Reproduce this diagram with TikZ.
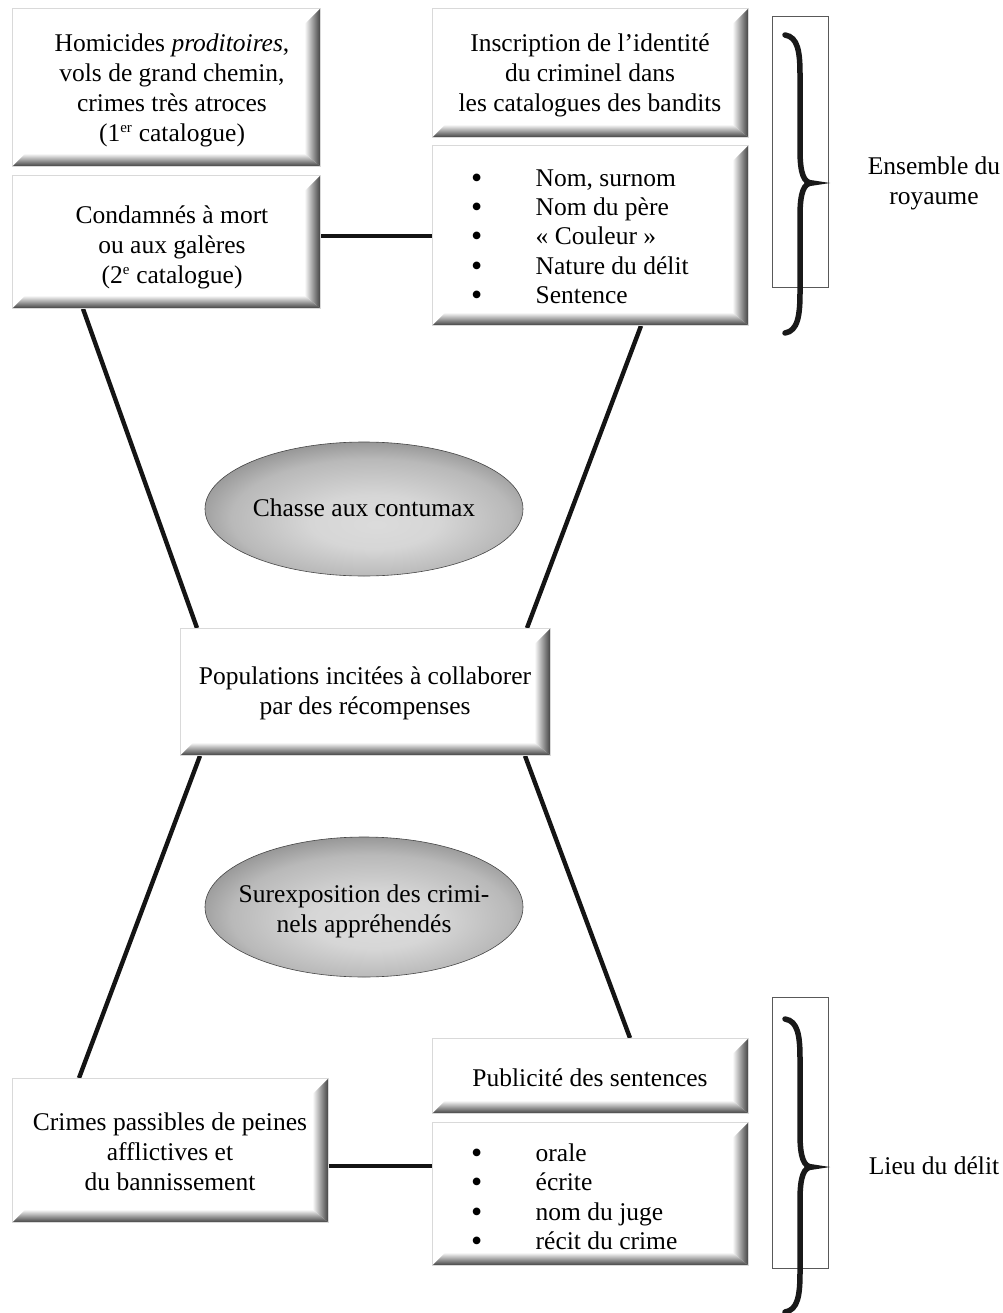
\documentclass[tikz,border=0pt]{standalone}
\usepackage{fontspec}
\setmainfont{Liberation Serif}
\usetikzlibrary{calc,shapes.geometric}
\pgfdeclarelayer{background}
\pgfsetlayers{background,main}
\pgfdeclareradialshading{ellsh}{\pgfpoint{2bp}{-6bp}}{color(0bp)=(gray!28); color(10bp)=(gray!32); color(22bp)=(gray!55); color(28bp)=(gray!82); color(50bp)=(gray!82)}
\tikzset{
  bevbox/.style={draw=gray!30, line width=0.8pt, fill=white, inner sep=0pt, anchor=north west,
    path picture={
      \path (path picture bounding box.north east) coordinate (pNE)
            (path picture bounding box.south east) coordinate (pSE)
            (path picture bounding box.south west) coordinate (pSW);
      \shade[left color=white, right color=black!75]
        (pNE) -- (pSE) -- ([xshift=-16pt,yshift=13pt]pSE) -- ([xshift=-16pt,yshift=-16pt]pNE) -- cycle;
      \shade[top color=white, bottom color=black!75, middle color=gray!75]
        (pSW) -- (pSE) -- ([xshift=-16pt,yshift=13pt]pSE) -- ([xshift=13pt,yshift=13pt]pSW) -- cycle;
    }},
  txt/.style={align=center, inner sep=0pt, font=\fontsize{25.5}{30}\selectfont, text=black},
  lst/.style={align=left, inner sep=0pt, anchor=west, font=\fontsize{25.5}{29.3}\selectfont, text=black},
  ell/.style={ellipse, shade, shading=ellsh, draw=gray!55!black, line width=0.6pt, inner sep=0pt},
  conn/.style={line width=4.4pt, black!92},
  frm/.style={draw=gray!70!black, line width=0.9pt},
  brc/.style={line width=5.5pt, black!90, line cap=round}
}
\newcommand{\bul}{\makebox[64.5pt][l]{\smash{\raisebox{-2pt}{\fontsize{32}{30}\selectfont •}}}}
\begin{document}
\begin{tikzpicture}[x=1pt,y=-1pt]
\useasboundingbox (0,0) rectangle (1002,1313);

% boxes
\node[bevbox, minimum width=308, minimum height=158] (A) at (12,8) {};
\node[bevbox, minimum width=308, minimum height=133] (B) at (12,175) {};
\node[bevbox, minimum width=316, minimum height=129] (C) at (432,8) {};
\node[bevbox, minimum width=316, minimum height=180] (D) at (432,145) {};
\node[bevbox, minimum width=370, minimum height=127] (P) at (180,628) {};
\node[bevbox, minimum width=316, minimum height=144] (E) at (12,1078) {};
\node[bevbox, minimum width=316, minimum height=75] (F) at (432,1038) {};
\node[bevbox, minimum width=316, minimum height=143] (G) at (432,1122) {};

% texts in boxes
\node[txt] (tA) at (172,90) {Homicides \textit{proditoires},\\vols de grand chemin,\\crimes très atroces\\(1\textsuperscript{\fontsize{15}{15}\selectfont er} catalogue)};
\node[txt] (tB) at (172,247) {Condamnés à mort\\ou aux galères\\(2\textsuperscript{\fontsize{15}{15}\selectfont e} catalogue)};
\node[txt] (tC) at (590,75) {Inscription de l’identité\\du criminel dans\\les catalogues des bandits};
\node[lst] (tD) at (471,236.6) {\bul Nom, surnom\\\bul Nom du père\\\bul « Couleur »\\\bul Nature du délit\\\bul Sentence};
\node[txt] (tP) at (365,693) {Populations incitées à collaborer\\par des récompenses};
\node[txt] (tE) at (170,1152) {Crimes passibles de peines\\afflictives et\\du bannissement};
\node[txt] (tF) at (590,1078) {Publicité des sentences};
\node[lst] (tG) at (471,1196.7) {\bul orale\\\bul écrite\\\bul nom du juge\\\bul récit du crime};

% ellipses
\node[ell, minimum width=318, minimum height=134] (E1) at (364,509) {};
\node[txt] (tE1) at (364,508) {Chasse aux contumax};
\node[ell, minimum width=318, minimum height=140] (E2) at (364,907) {};
\node[txt] (tE2) at (364,911) {Surexposition des crimi-\\nels appréhendés};

% connectors
\begin{pgfonlayer}{background}
\draw[conn] ($(B.south west)+(71,0)$) -- ($(P.north west)+(17,0)$);
\draw[conn] ($(D.south west)+(209,0)$) -- ($(P.north west)+(347,0)$);
\draw[conn] ($(P.south west)+(20,0)$) -- ($(E.north west)+(67,0)$);
\draw[conn] ($(P.south west)+(345,0)$) -- ($(F.north west)+(198,0)$);
\draw[conn] ($(B.north east)+(0,61)$) -- ($(D.north west)+(0,91)$);
\draw[conn] ($(E.north east)+(0,88)$) -- ($(G.north west)+(0,44)$);
\end{pgfonlayer}

% frames and braces
\draw[frm] (772,16) rectangle (828,287);
\draw[brc] (785,35) .. controls (798,37) and (800,52) .. (800,75) -- (800,150)
  .. controls (800,174) and (804,183) .. (812,183)
  .. controls (804,183) and (800,192) .. (800,216) -- (800,292)
  .. controls (800,315) and (798,331) .. (785,333);
\node[txt] (lab1) at (934,183) {Ensemble du\\royaume};

\draw[frm] (772,997) rectangle (828,1268);
\draw[brc] (785,1019) .. controls (798,1021) and (800,1036) .. (800,1059) -- (800,1134)
  .. controls (800,1158) and (804,1167) .. (812,1167)
  .. controls (804,1167) and (800,1176) .. (800,1200) -- (800,1272)
  .. controls (800,1295) and (798,1310) .. (785,1312);
\node[txt] (lab2) at (934,1166) {Lieu du délit};
\end{tikzpicture}
\end{document}
